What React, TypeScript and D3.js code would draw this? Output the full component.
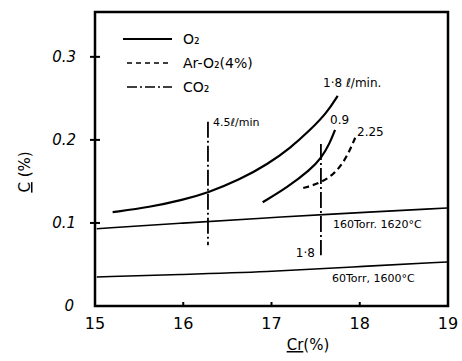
import { useEffect, useRef } from "react";
import * as d3 from "d3";

// Cr (%) vs C (%) — hand-drawn decarburization chart
const xTicks = [15, 16, 17, 18, 19];
const yTicks = [0, 0.1, 0.2, 0.3];
const yTickLabels = ["0", "0.1", "0.2", "0.3"];

// O2, 1.8 l/min
const o2Fast = [
  [15.2, 0.113], [15.62, 0.119], [16.0, 0.128], [16.27, 0.136], [16.64, 0.152],
  [16.96, 0.171], [17.21, 0.19], [17.44, 0.212], [17.63, 0.233], [17.75, 0.253],
];
// O2, 0.9 l/min
const o2Slow = [
  [16.9, 0.125], [17.18, 0.143], [17.44, 0.164], [17.57, 0.179], [17.66, 0.196], [17.72, 0.212],
];
// Ar-O2 (4%), 2.25 l/min
const arO2 = [
  [17.36, 0.142], [17.55, 0.148], [17.7, 0.158], [17.81, 0.172], [17.89, 0.188], [17.95, 0.203],
];
// equilibrium lines
const eq160 = [[15.02, 0.093], [16.0, 0.1], [16.95, 0.106], [17.55, 0.11], [18.99, 0.118]];
const eq60 = [[15.02, 0.035], [16.0, 0.038], [16.95, 0.041], [17.9, 0.047], [18.99, 0.053]];
// CO2 vertical runs: x, yTop, yBottom
const co2Runs = [
  { x: 16.28, top: 0.222, bottom: 0.073, label: "4.5ℓ/min" },
  { x: 17.56, top: 0.195, bottom: 0.061, label: "1·8" },
];

const legendItems = [
  { label: "O₂", dash: null },
  { label: "Ar-O₂(4%)", dash: "5,4" },
  { label: "CO₂", dash: "10,3,2,3" },
];

const W = 462;
const H = 361;
const FONT = "'DejaVu Sans', sans-serif";

export default function App() {
  const svgRef = useRef<SVGSVGElement>(null);

  useEffect(() => {
    const svg = d3.select(svgRef.current);
    svg.selectAll("*").remove();

    const x = d3.scaleLinear().domain([15, 19]).range([95, 448]);
    const y = d3.scaleLinear().domain([0, 0.354]).range([306, 12]);

    const curve = d3
      .line<number[]>()
      .x((d) => x(d[0]))
      .y((d) => y(d[1]))
      .curve(d3.curveBasis);

    // frame
    svg
      .append("rect")
      .attr("x", x(15))
      .attr("y", y(0.354))
      .attr("width", x(19) - x(15))
      .attr("height", y(0) - y(0.354))
      .attr("fill", "none")
      .attr("stroke", "#000")
      .attr("stroke-width", 2.5);

    // y ticks (crosses) and labels
    yTicks.forEach((t, i) => {
      if (t > 0) {
        svg
          .append("line")
          .attr("x1", x(15) - 5)
          .attr("x2", x(15) + 5)
          .attr("y1", y(t))
          .attr("y2", y(t))
          .attr("stroke", "#000")
          .attr("stroke-width", 2);
      }
      svg
        .append("text")
        .attr("x", t === 0 ? 74 : 76)
        .attr("y", y(t) + 5)
        .attr("text-anchor", "end")
        .attr("font-family", FONT)
        .attr("font-style", "italic")
        .attr("font-size", 15)
        .text(yTickLabels[i]);
    });

    // x ticks and labels
    xTicks.forEach((t) => {
      if (t > 15 && t < 19) {
        svg
          .append("line")
          .attr("x1", x(t))
          .attr("x2", x(t))
          .attr("y1", y(0))
          .attr("y2", y(0) - 4)
          .attr("stroke", "#000")
          .attr("stroke-width", 2);
      }
      svg
        .append("text")
        .attr("x", x(t))
        .attr("y", 329)
        .attr("text-anchor", "middle")
        .attr("font-family", FONT)
        .attr("font-size", 16)
        .text(t);
    });

    // axis titles
    const xt = svg
      .append("text")
      .attr("x", 308)
      .attr("y", 350)
      .attr("text-anchor", "middle")
      .attr("font-family", FONT)
      .attr("font-size", 15);
    xt.append("tspan").attr("text-decoration", "underline").text("Cr");
    xt.append("tspan").text("(%)");

    const yt = svg
      .append("text")
      .attr("transform", `translate(30,${172}) rotate(-90)`)
      .attr("text-anchor", "middle")
      .attr("font-family", FONT)
      .attr("font-size", 15);
    yt.append("tspan").attr("text-decoration", "underline").text("C");
    yt.append("tspan").text(" (%)");

    // equilibrium lines
    [eq160, eq60].forEach((d) => {
      svg
        .append("path")
        .attr("d", curve(d as any))
        .attr("fill", "none")
        .attr("stroke", "#000")
        .attr("stroke-width", 1.6);
    });

    // curves
    [o2Fast, o2Slow].forEach((d) => {
      svg
        .append("path")
        .attr("d", curve(d as any))
        .attr("fill", "none")
        .attr("stroke", "#000")
        .attr("stroke-width", 2.2);
    });
    svg
      .append("path")
      .attr("d", curve(arO2 as any))
      .attr("fill", "none")
      .attr("stroke", "#000")
      .attr("stroke-width", 2.2)
      .attr("stroke-dasharray", "6,4");

    // CO2 runs
    co2Runs.forEach((r) => {
      svg
        .append("line")
        .attr("x1", x(r.x))
        .attr("x2", x(r.x))
        .attr("y1", y(r.top))
        .attr("y2", y(r.bottom))
        .attr("stroke", "#000")
        .attr("stroke-width", 1.8)
        .attr("stroke-dasharray", "16,3,2,3");
    });

    // annotations
    const note = (tx: number, ty: number, s: string, size = 11, anchor = "start") =>
      svg
        .append("text")
        .attr("x", tx)
        .attr("y", ty)
        .attr("text-anchor", anchor)
        .attr("font-family", FONT)
        .attr("font-size", size)
        .text(s);

    note(x(co2Runs[0].x) + 5, y(0.222) + 4, co2Runs[0].label, 11);
    note(x(co2Runs[1].x) - 6, y(0.061) + 2, co2Runs[1].label, 12, "end");
    note(323, 87, "1·8 ℓ/min.", 12);
    note(330, 124, "0.9", 12);
    note(357, 136, "2.25", 12);
    note(333, 228, "160Torr. 1620°C", 11);
    note(332, 282, "60Torr, 1600°C", 11);

    // legend
    const lg = svg.append("g");
    legendItems.forEach((it, i) => {
      const ly = 39 + i * 24;
      lg.append("line")
        .attr("x1", i === 0 ? 123 : 127)
        .attr("x2", 172)
        .attr("y1", ly)
        .attr("y2", ly)
        .attr("stroke", "#000")
        .attr("stroke-width", i === 0 ? 2 : 1.6)
        .attr("stroke-dasharray", it.dash);
      lg.append("text")
        .attr("x", 183)
        .attr("y", ly + 5)
        .attr("font-family", FONT)
        .attr("font-size", 14)
        .text(it.label);
    });
  }, []);

  return (
    <div style={{ position: "absolute", left: 0, top: 0 }}>
      <svg ref={svgRef} width={W} height={H} style={{ display: "block", background: "#fff" }} />
    </div>
  );
}
